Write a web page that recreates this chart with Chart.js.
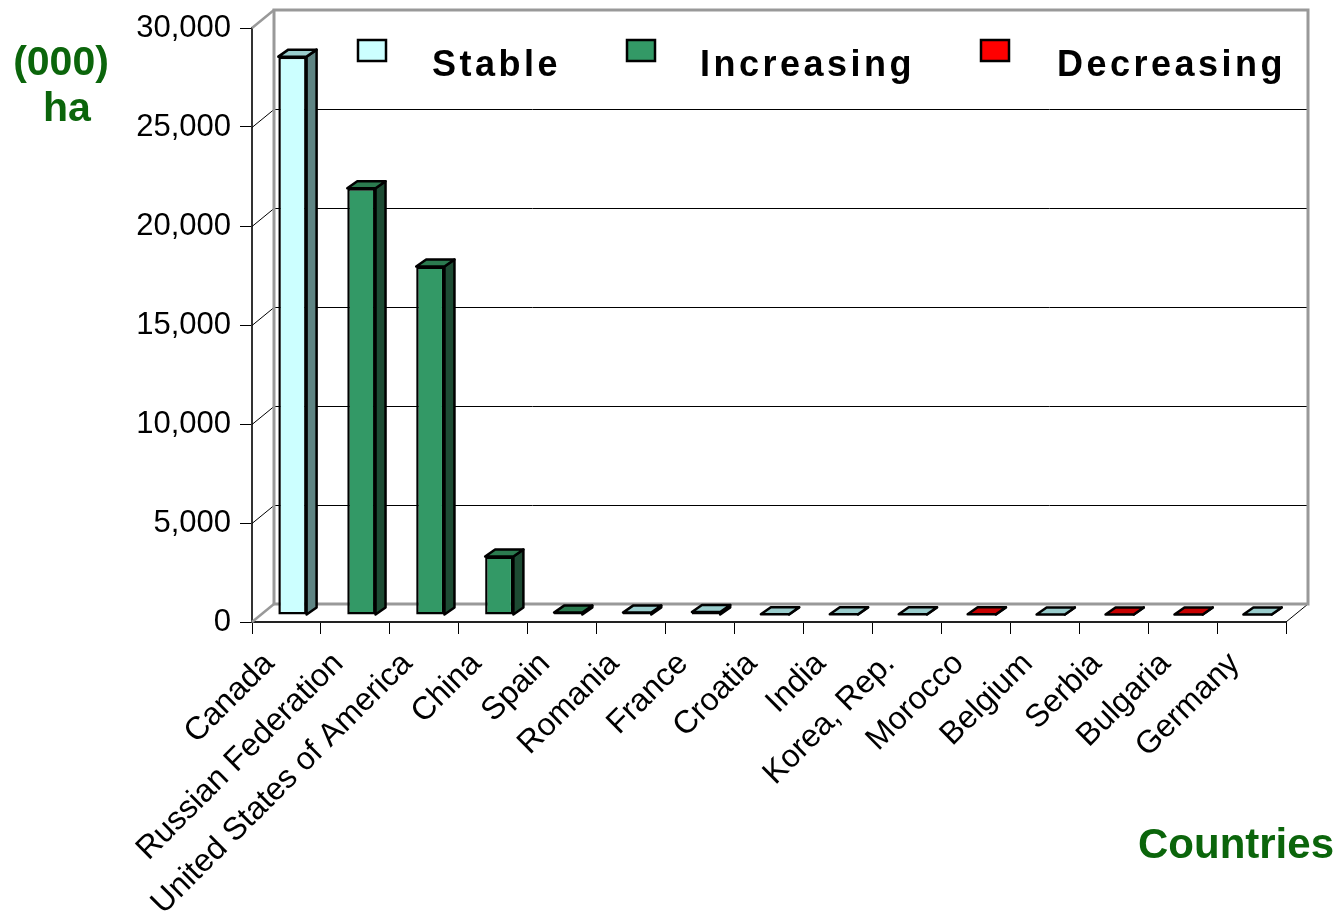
<!DOCTYPE html>
<html>
<head>
<meta charset="utf-8">
<script src="https://cdn.jsdelivr.net/npm/chart.js@4.4.1/dist/chart.umd.min.js"></script>
<style>
    body { margin: 0; background: #fff; }
</style>
</head>
<body>
<canvas id="myChart" width="1339" height="919"></canvas>
<script>
// data, (000) ha
const countries = ['Canada', 'Russian Federation', 'United States of America', 'China', 'Spain', 'Romania',
    'France', 'Croatia', 'India', 'Korea, Rep.', 'Morocco', 'Belgium', 'Serbia', 'Bulgaria', 'Germany'];
const stableValues = [28200, null, null, null, null, 120, 150, 40, 40, 40, null, 30, null, null, 30];
const increasingValues = [null, 21550, 17600, 2950, 120, null, null, null, null, null, null, null, null, null, null];
const decreasingValues = [null, null, null, null, null, null, null, null, null, null, 40, null, 30, 30, null];
const seriesNames = ['Stable', 'Increasing', 'Decreasing'];

const fontFamily = '"Liberation Sans", Arial, sans-serif';
const titleGreen = '#0b650b';

// 3d look: depth of walls / floor and of the bars
const wallDepth = {dx: 22, dy: -18};
const barShift = {dx: 6, dy: -7};
const barDepth = {dx: 10, dy: -7};

const faceColors = [
    {front: '#ccffff', side: '#5f8584', top: '#99cccc'},
    {front: '#339966', side: '#1d4b33', top: '#2b7a4f'},
    {front: '#ff0000', side: '#7a0000', top: '#c80000'}
];
const legendPos = [{box: 358, text: 432}, {box: 627, text: 700}, {box: 981, text: 1057}];

function poly(ctx, pts, fill) {
    ctx.beginPath();
    ctx.moveTo(pts[0][0], pts[0][1]);
    for (let i = 1; i < pts.length; i++) {
        ctx.lineTo(pts[i][0], pts[i][1]);
    }
    ctx.closePath();
    ctx.fillStyle = fill;
    ctx.fill();
    ctx.stroke();
}

function line(ctx, x1, y1, x2, y2) {
    ctx.beginPath();
    ctx.moveTo(x1, y1);
    ctx.lineTo(x2, y2);
    ctx.stroke();
}

const box3d = {
    id: 'box3d',
    beforeDatasetsDraw(chart) {
        const ctx = chart.ctx;
        const a = chart.chartArea;
        const y = chart.scales.y;
        const dx = wallDepth.dx, dy = wallDepth.dy;

        ctx.save();
        // gridlines on left wall + back wall
        ctx.strokeStyle = '#000';
        ctx.lineWidth = 1;
        y.ticks.forEach(t => {
            if (t.value === 0 || t.value === y.max) return;
            const py = Math.round(y.getPixelForValue(t.value)) + 0.5;
            ctx.beginPath();
            ctx.moveTo(a.left, py);
            ctx.lineTo(a.left + dx, py + dy);
            ctx.lineTo(a.right + dx, py + dy);
            ctx.stroke();
        });
        line(ctx, a.right, a.bottom, a.right + dx, a.bottom + dy);

        // back wall and floor edges
        ctx.strokeStyle = '#999';
        ctx.lineWidth = 3;
        ctx.strokeRect(a.left + dx, a.top + dy, a.width, a.height);
        ctx.lineWidth = 2.5;
        line(ctx, a.left, a.top, a.left + dx, a.top + dy);
        line(ctx, a.left, a.bottom, a.left + dx, a.bottom + dy);
        ctx.restore();

        ctx.save();
        ctx.translate(barShift.dx, barShift.dy);
    },
    afterDatasetsDraw(chart) {
        const ctx = chart.ctx;
        ctx.restore();

        ctx.save();
        ctx.strokeStyle = '#000';
        ctx.lineWidth = 2.5;
        ctx.lineJoin = 'round';
        chart.data.datasets.forEach((ds, di) => {
            const colors = faceColors[di];
            chart.getDatasetMeta(di).data.forEach((bar, i) => {
                if (ds.data[i] == null) return;
                const p = bar.getProps(['x', 'y', 'base', 'width'], true);
                const l = p.x - p.width / 2 + barShift.dx;
                const r = p.x + p.width / 2 + barShift.dx;
                const t = p.y + barShift.dy;
                const b = p.base + barShift.dy;
                poly(ctx, [[r, t], [r + barDepth.dx, t + barDepth.dy], [r + barDepth.dx, b + barDepth.dy], [r, b]], colors.side);
                poly(ctx, [[l, t], [l + barDepth.dx, t + barDepth.dy], [r + barDepth.dx, t + barDepth.dy], [r, t]], colors.top);
            });
        });
        ctx.restore();

        // legend inside the plot
        ctx.save();
        ctx.font = 'bold 36px ' + fontFamily;
        ctx.letterSpacing = '3.5px';
        ctx.textBaseline = 'alphabetic';
        ctx.lineWidth = 2.5;
        ctx.strokeStyle = '#000';
        seriesNames.forEach((name, i) => {
            ctx.fillStyle = faceColors[i].front;
            ctx.fillRect(legendPos[i].box, 40, 28, 21);
            ctx.strokeRect(legendPos[i].box, 40, 28, 21);
            ctx.fillStyle = '#000';
            ctx.fillText(name, legendPos[i].text, 76);
        });
        ctx.restore();

        // axis titles
        ctx.save();
        ctx.fillStyle = titleGreen;
        ctx.font = 'bold 41px ' + fontFamily;
        ctx.textAlign = 'center';
        ctx.fillText('(000)', 61, 75);
        ctx.fillText('ha', 67, 121);
        ctx.font = 'bold 42px ' + fontFamily;
        ctx.textAlign = 'right';
        ctx.fillText('Countries', 1334, 858);
        ctx.restore();
    }
};

const ctx = document.getElementById('myChart');

const myChart = new Chart(ctx, {
    type: 'bar',
    data: {
        labels: countries,
        datasets: [
            {label: seriesNames[0], data: stableValues, backgroundColor: faceColors[0].front},
            {label: seriesNames[1], data: increasingValues, backgroundColor: faceColors[1].front},
            {label: seriesNames[2], data: decreasingValues, backgroundColor: faceColors[2].front}
        ]
    },
    options: {
        responsive: false,
        animation: false,
        layout: {
            padding: {top: 28, right: 53, left: 0, bottom: 0}
        },
        datasets: {
            bar: {
                borderColor: '#000',
                borderWidth: 2.5,
                borderSkipped: false,
                barPercentage: 0.41,
                categoryPercentage: 1,
                clip: false
            }
        },
        plugins: {
            legend: {display: false},
            tooltip: {enabled: false}
        },
        scales: {
            x: {
                stacked: true,
                afterFit: scale => { scale.height = 297; },
                grid: {
                    offset: true,
                    drawOnChartArea: false,
                    tickLength: 12,
                    color: '#000'
                },
                border: {display: true, color: '#222', width: 2},
                ticks: {
                    autoSkip: false,
                    minRotation: 45,
                    maxRotation: 45,
                    padding: 11,
                    labelOffset: -17,
                    color: '#000',
                    font: {family: fontFamily, size: 32}
                }
            },
            y: {
                stacked: true,
                min: 0,
                max: 30000,
                afterFit: scale => { scale.width = 252; },
                grid: {
                    drawOnChartArea: false,
                    tickLength: 12,
                    color: '#000'
                },
                border: {display: true, color: '#333', width: 2},
                ticks: {
                    stepSize: 5000,
                    padding: 9,
                    color: '#000',
                    font: {family: fontFamily, size: 31},
                    callback: v => v.toLocaleString('en-US')
                }
            }
        }
    },
    plugins: [box3d]
});
</script>
</body>
</html>
